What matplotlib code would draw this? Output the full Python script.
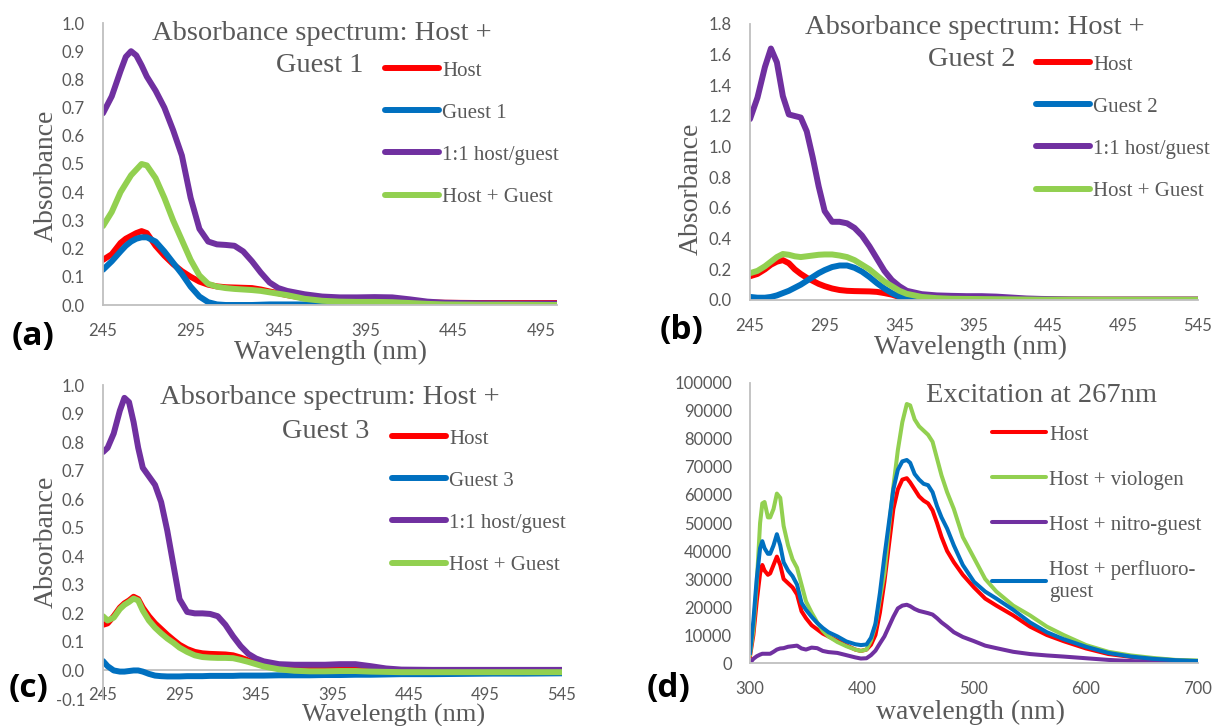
import matplotlib
matplotlib.use("Agg")
import matplotlib.pyplot as plt
from matplotlib.ticker import FixedLocator, FormatStrFormatter

# ---------------- data ----------------
# panel (a)
wl_a = [245, 250, 255, 258, 261, 264, 267, 270, 275, 280, 285, 290, 295, 300, 305, 310, 315, 320,
        325, 330, 335, 340, 345, 350, 360, 370, 380, 390, 400, 410, 420, 430, 440, 460, 480, 504]
host_a = [.16, .18, .22, .235, .245, .255, .262, .255, .21, .175, .145, .12, .10, .083, .072, .066, .063, .062,
          .061, .06, .055, .048, .042, .035, .025, .018, .016, .015, .015, .014, .011, .009, .008, .007, .007, .007]
guest1_a = [.125, .155, .19, .21, .225, .235, .24, .24, .225, .19, .15, .11, .065, .03, .01, .002, 0, 0,
            0, 0, .001, .002, .002, .002, .002, .002, .002, .002, .002, .001, 0, 0, 0, 0, 0, 0]
complex_a = [.68, .74, .83, .88, .90, .885, .85, .81, .76, .70, .62, .53, .38, .27, .225, .215, .213, .21,
             .19, .155, .115, .08, .06, .05, .038, .03, .027, .027, .028, .027, .02, .012, .008, .006, .005, .005]
sum_a = [.28, .33, .40, .43, .46, .48, .50, .495, .45, .38, .30, .23, .16, .105, .075, .065, .06, .057,
         .055, .053, .05, .045, .04, .035, .022, .015, .012, .011, .011, .01, .007, .004, .002, .001, .001, 0]

# panel (b)
wl_b = [245, 250, 255, 259, 263, 267, 271, 275, 279, 283, 287, 291, 295, 300, 305, 310, 315, 320, 325,
        330, 335, 340, 345, 350, 360, 370, 380, 390, 400, 410, 420, 430, 440, 460, 480, 500, 520, 545]
host_b = [.155, .17, .20, .23, .25, .26, .24, .20, .17, .145, .125, .105, .09, .075, .065, .06, .058, .057, .056,
          .053, .045, .035, .02, .012, .006, .004, .003, .002, .002, .002, .002, .002, .002, .002, .002, .002, .002, .002]
guest2_b = [.02, .015, .015, .02, .03, .045, .06, .08, .10, .125, .15, .175, .195, .215, .225, .225, .21, .185, .15,
            .11, .075, .045, .022, .01, .003, .001, 0, 0, 0, 0, 0, 0, 0, 0, 0, 0, 0, 0]
complex_b = [1.18, 1.32, 1.52, 1.64, 1.55, 1.33, 1.21, 1.20, 1.19, 1.10, .93, .74, .58, .51, .51, .50, .47, .42, .35,
             .27, .19, .13, .09, .06, .038, .03, .027, .025, .025, .022, .016, .01, .007, .004, .003, .003, .003, .003]
sum_b = [.175, .19, .22, .25, .28, .30, .295, .285, .28, .285, .29, .295, .297, .297, .29, .28, .26, .23, .20,
         .16, .12, .09, .06, .04, .02, .012, .008, .007, .006, .005, .004, .003, .002, .002, .002, .002, .002, .002]

# panel (c)
wl_c = [245, 248, 252, 256, 259, 262, 265, 268, 271, 275, 279, 283, 287, 291, 295, 300, 305, 310, 315, 320,
        325, 330, 335, 340, 345, 350, 360, 370, 380, 390, 400, 410, 420, 430, 440, 460, 480, 500, 520, 545]
host_c = [.16, .165, .19, .22, .235, .245, .258, .25, .22, .19, .165, .145, .125, .107, .09, .075, .065, .06, .058, .057,
          .056, .053, .045, .035, .025, .018, .008, .004, .003, .003, .004, .004, .002, 0, -.001, -.002, -.002, -.002, -.002, -.002]
guest3_c = [.033, .015, 0, -.004, -.004, -.002, 0, 0, -.004, -.012, -.018, -.02, -.021, -.021, -.021, -.02, -.02, -.02, -.019, -.019,
            -.019, -.019, -.018, -.018, -.018, -.018, -.017, -.017, -.017, -.016, -.016, -.015, -.015, -.014, -.013, -.013, -.012, -.011, -.011, -.01]
complex_c = [.765, .78, .83, .91, .955, .94, .87, .78, .71, .68, .65, .59, .49, .37, .25, .205, .20, .20, .198, .19,
             .16, .12, .085, .058, .042, .032, .022, .02, .02, .02, .022, .022, .015, .007, .003, .002, .002, .002, .002, .002]
sum_c = [.19, .175, .185, .215, .23, .24, .252, .245, .21, .175, .15, .13, .112, .097, .08, .065, .053, .047, .045, .044,
         .044, .043, .037, .03, .022, .014, .004, -.001, -.003, -.003, -.002, -.002, -.004, -.005, -.006, -.006, -.006, -.006, -.006, -.006]

# panel (d)
wl_d = [300, 303, 306, 309, 311, 313, 316, 318, 321, 324, 327, 330, 334, 338, 342, 346, 350, 355, 360, 365,
        370, 378, 386, 394, 399, 404, 408, 412, 416, 420, 424, 428, 432, 436, 440, 443, 447, 451, 455, 459,
        463, 467, 471, 476, 482, 490, 500, 510, 520, 535, 550, 565, 580, 600, 620, 640, 660, 680, 700]
host_d = [2400, 10000, 22000, 32000, 35000, 33000, 31500, 32000, 35000, 38000, 35000, 30000, 28500, 27000, 24500, 18500, 16000, 13500, 12000, 10500,
          9500, 8000, 6300, 4800, 4300, 4800, 6500, 10000, 18000, 29000, 42000, 55000, 62000, 65500, 66000, 64500, 62000, 59500, 58000, 57000,
          54500, 50000, 45000, 40000, 36000, 31500, 27000, 23000, 20500, 17000, 13000, 10000, 7800, 5200, 3200, 2200, 1500, 900, 600]
viologen_d = [3000, 12000, 28000, 50000, 57000, 57500, 52000, 52000, 55000, 60500, 59000, 49000, 42000, 37000, 34000, 28000, 22000, 18000, 14500, 11500,
              9500, 7500, 6000, 4800, 4300, 4800, 8000, 13500, 23000, 32000, 48000, 63000, 76000, 86000, 92500, 92000, 87000, 84500, 83000, 81500,
              79000, 73000, 67000, 61000, 55000, 45000, 37500, 30000, 25500, 20500, 17000, 13000, 10000, 6400, 4000, 2700, 1800, 1100, 900]
nitro_d = [0, 1500, 2400, 3000, 3300, 3300, 3300, 3300, 4000, 4800, 5200, 5300, 5800, 6000, 6200, 5200, 4800, 5500, 5300, 4300,
           3900, 3600, 2800, 2000, 1600, 1700, 2800, 4400, 7000, 9500, 13000, 16500, 19500, 20500, 20800, 20300, 19300, 18600, 18200, 17800,
           17300, 16000, 14500, 13000, 11000, 9300, 7800, 6200, 5300, 4000, 3200, 2700, 2300, 1700, 1100, 700, 400, 200, 100]
perfluoro_d = [3600, 15000, 30000, 41000, 43500, 41000, 39000, 39000, 42000, 46000, 42000, 36000, 33000, 31000, 28000, 21500, 19000, 16500, 14300, 12500,
               11000, 9500, 7700, 6700, 6400, 6600, 9000, 14000, 25000, 38000, 50000, 62000, 69000, 72000, 72500, 71500, 67500, 65500, 64000, 63500,
               61000, 56000, 52000, 48000, 42000, 35000, 29000, 25500, 23000, 19000, 14500, 11000, 8500, 5800, 3600, 2300, 1500, 1000, 700]

labels_abs = ["Host", "Guest {}", "1:1 host/guest", "Host + Guest"]
labels_d = ["Host", "Host + viologen", "Host + nitro-guest", "Host + perfluoro-\nguest"]
xticks_abs = [245, 295, 345, 395, 445, 495, 545]
xticks_d = [300, 400, 500, 600, 700]

# ---------------- style ----------------
W, H = 1224, 726
RED, BLUE, PURPLE, GREEN = "#FF0000", "#0070C0", "#7030A0", "#92D050"
TXT = "#595959"
AXC = "#BFBFBF"
SERIF = ["Liberation Serif", "DejaVu Serif"]
SANS = ["Lato", "DejaVu Sans"]
BOLD = ["Open Sans", "DejaVu Sans"]

fig = plt.figure(figsize=(W / 100, H / 100), dpi=100)


def px_axes(left, top, right, bottom):
    return fig.add_axes([left / W, 1 - bottom / H, (right - left) / W, (bottom - top) / H])


def style(ax, xlim, ylim, xt, yt, fmt, xpad=13):
    ax.set_xlim(*xlim)
    ax.set_ylim(*ylim)
    for s in ("top", "right"):
        ax.spines[s].set_visible(False)
    for s in ("left", "bottom"):
        ax.spines[s].set_color(AXC)
        ax.spines[s].set_linewidth(1.3)
    ax.xaxis.set_major_locator(FixedLocator(xt))
    ax.yaxis.set_major_locator(FixedLocator(yt))
    ax.yaxis.set_major_formatter(FormatStrFormatter(fmt))
    ax.tick_params(axis="both", length=0, labelsize=12, labelcolor=TXT)
    ax.tick_params(axis="y", pad=13)
    ax.tick_params(axis="x", pad=xpad)
    for lab in ax.get_xticklabels() + ax.get_yticklabels():
        lab.set_family(SANS)
    ax.patch.set_alpha(0)


def ftext(x, y, s, size, **kw):
    fig.text(x / W, 1 - y / H, s, fontsize=size, color=kw.pop("color", TXT),
             family=kw.pop("family", SERIF), ha=kw.pop("ha", "center"), va=kw.pop("va", "center"), **kw)


def legend(ax, x, y, spacing, lw):
    leg = ax.legend(loc="upper left", bbox_to_anchor=(x / W, 1 - y / H), bbox_transform=fig.transFigure,
                    frameon=False, borderpad=0, borderaxespad=0, handlelength=2.6, handletextpad=0.15,
                    labelspacing=spacing, prop={"family": SERIF, "size": 15})
    for t in leg.get_texts():
        t.set_color(TXT)
    for h in leg.get_lines():
        h.set_linewidth(lw)
        h.set_solid_capstyle("round")
    return leg


LW = 4.3
kw = dict(lw=LW, solid_capstyle="round", solid_joinstyle="round")

# ---- (a)
ax = px_axes(103, 23, 557, 305)
ax.plot(wl_a, host_a, color=RED, label=labels_abs[0], **kw)
ax.plot(wl_a, guest1_a, color=BLUE, label=labels_abs[1].format(1), **kw)
ax.plot(wl_a, complex_a, color=PURPLE, label=labels_abs[2], **kw)
ax.plot(wl_a, sum_a, color=GREEN, label=labels_abs[3], **kw)
style(ax, (245, 504), (0, 1.0), xticks_abs[:-1], [i / 10 for i in range(11)], "%.1f")
legend(ax, 385, 61, 1.08, LW)
ftext(322, 33, "Absorbance spectrum: Host +", 20.5)
ftext(320, 66, "Guest 1", 20.5)
ftext(331, 352, "Wavelength (nm)", 20)
ftext(46, 176, "Absorbance", 20, rotation=90)
ftext(33, 337, "(a)", 24, color="black", family=BOLD, fontweight="bold")

# ---- (b)
ax = px_axes(750, 24, 1198, 300)
ax.plot(wl_b, host_b, color=RED, label=labels_abs[0], **kw)
ax.plot(wl_b, guest2_b, color=BLUE, label=labels_abs[1].format(2), **kw)
ax.plot(wl_b, complex_b, color=PURPLE, label=labels_abs[2], **kw)
ax.plot(wl_b, sum_b, color=GREEN, label=labels_abs[3], **kw)
style(ax, (245, 545), (0, 1.8), xticks_abs, [i / 5 for i in range(10)], "%.1f")
legend(ax, 1036, 55, 1.08, LW)
ftext(975, 28, "Absorbance spectrum: Host +", 20.5)
ftext(972, 59, "Guest 2", 20.5)
ftext(970, 347, "Wavelength (nm)", 20)
ftext(691, 189, "Absorbance", 20, rotation=90)
ftext(682, 330, "(b)", 24, color="black", family=BOLD, fontweight="bold")

# ---- (c)
ax = px_axes(103, 385, 562, 699)
ax.axhline(0, color=AXC, lw=1.3, zorder=0.5)
ax.plot(wl_c, host_c, color=RED, label=labels_abs[0], **kw)
ax.plot(wl_c, guest3_c, color=BLUE, label=labels_abs[1].format(3), **kw)
ax.plot(wl_c, complex_c, color=PURPLE, label=labels_abs[2], **kw)
ax.plot(wl_c, sum_c, color=GREEN, label=labels_abs[3], **kw)
style(ax, (245, 545), (-0.1, 1.0), xticks_abs, [i / 10 for i in range(-1, 11)], "%.1f", xpad=-9)
ax.spines["bottom"].set_visible(False)
legend(ax, 392, 429, 1.08, LW)
ftext(330, 398, "Absorbance spectrum: Host +", 20.5)
ftext(326, 432, "Guest 3", 20.5)
ftext(394, 715, "Wavelength (nm)", 19)
ftext(46, 542, "Absorbance", 20, rotation=90)
ftext(29, 688, "(c)", 24, color="black", family=BOLD, fontweight="bold")

# ---- (d)
LWD = 2.9
kwd = dict(lw=LWD, solid_joinstyle="round")
ax = px_axes(750, 383, 1198, 663)
ax.plot(wl_d, host_d, color=RED, label=labels_d[0], **kwd)
ax.plot(wl_d, viologen_d, color=GREEN, label=labels_d[1], **kwd)
ax.plot(wl_d, nitro_d, color=PURPLE, label=labels_d[2], **kwd)
ax.plot(wl_d, perfluoro_d, color=BLUE, label=labels_d[3], **kwd)
style(ax, (300, 700), (0, 100000), xticks_d, list(range(0, 100001, 10000)), "%d")
legend(ax, 992, 425, 1.22, LWD)
ftext(1041, 395, "Excitation at 267nm", 20.5)
ftext(970, 712, "wavelength (nm)", 20)
ftext(669, 688, "(d)", 24, color="black", family=BOLD, fontweight="bold")

fig.savefig("out.png", dpi=100)
